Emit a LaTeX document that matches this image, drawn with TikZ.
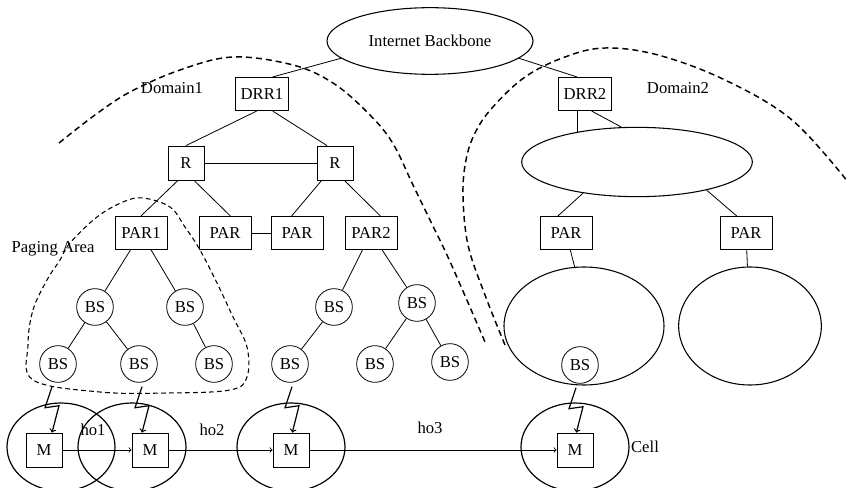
\documentclass[tikz,border=0pt]{standalone}
\usepackage{fontspec}
\setmainfont{Liberation Serif}
\usetikzlibrary{shapes,positioning}

\begin{document}
\begin{tikzpicture}[x=0.75pt,y=-0.75pt,line width=0.6pt,
  font=\fontsize{12.5}{15}\selectfont,
  box/.style={draw,minimum width=27pt,minimum height=25.5pt,inner sep=2pt},
  router/.style={box,minimum width=40pt,minimum height=25pt},
  pabox/.style={box,minimum width=39pt,minimum height=25pt},
  bs/.style={draw,circle,minimum size=27.5pt,inner sep=0pt},
  wan/.style={draw,ellipse,line width=0.8pt},
  cellring/.style={draw,ellipse,line width=0.9pt,minimum width=81pt,minimum height=66pt},
  domline/.style={dash pattern=on 4.5pt off 3pt,line width=1.1pt},
  paging/.style={dash pattern=on 3.5pt off 2.5pt,line width=0.8pt},
  zap/.style={->,line width=0.9pt}]
  \useasboundingbox (0,0) rectangle (850,488);
% domains
  \draw[domline] plot[smooth,tension=0.6] coordinates {(59,143) (95,115) (130,92)
    (180,70) (233,57) (293,65) (333,83) (367,112) (392,142) (413,185) (430,220)
    (447,255) (466,298) (485,342)};
  \draw[domline] plot[smooth,tension=0.6] coordinates {(505,345) (485,295) (468,245)
    (463,195) (466,160) (475,133) (492,108) (525,77) (565,57) (605,48) (658,55)
    (725,80) (792,120) (848,182)};
  \draw[paging] plot[smooth cycle,tension=0.6] coordinates {(28,345) (33,310) (47,280)
    (60,260) (70,243) (97,217) (123,202) (143,198) (170,207) (185,227) (200,250)
    (217,283) (233,317) (247,347) (247,377) (230,390) (167,393) (100,392) (33,380)};
  \node (dom1) at (172,88) {Domain1};
  \node (dom2) at (678,88) {Domain2};
  \node (pga) at (53,249) {Paging Area};

% core
  \node[wan,minimum width=154.5pt,minimum height=50pt] (ib) at (430,41) {Internet Backbone};
  \node[router] (drr1) at (262,94) {DRR1};
  \node[router] (drr2) at (585,94) {DRR2};
  \draw (ib.191) -- ([xshift=8pt]drr1.north);
  \draw (ib.349) -- ([xshift=-6pt]drr2.north);

% domain 1
  \node[box] (r1) at (186,163) {R};
  \node[box] (r2) at (335,163) {R};
  \node[pabox] (par1) at (141,233) {PAR1};
  \node[pabox] (para) at (225,233) {PAR};
  \node[pabox] (parb) at (297,233) {PAR};
  \node[pabox] (par2) at (371,233) {PAR2};
  \draw ([xshift=-4pt]drr1.south) -- (r1.north);
  \draw ([xshift=8pt]drr1.south) -- ([xshift=-6pt]r2.north);
  \draw (r1) -- (r2);
  \draw ([xshift=-6pt]r1.south) -- (par1.north);
  \draw ([xshift=6pt]r1.south) -- ([xshift=4pt]para.north);
  \draw ([xshift=-10pt]r2.south) -- ([xshift=-4pt]parb.north);
  \draw ([xshift=7pt]r2.south) -- ([xshift=7pt]par2.north);
  \draw (para) -- (parb);

  \node[bs] (b1) at (95,307) {BS};
  \node[bs] (b2) at (185,307) {BS};
  \node[bs] (b3) at (58,364) {BS};
  \node[bs] (b4) at (139,364) {BS};
  \node[bs] (b5) at (214,364) {BS};
  \node[bs] (b6) at (334,307) {BS};
  \node[bs] (b7) at (417,303) {BS};
  \node[bs] (b8) at (290,364) {BS};
  \node[bs] (b9) at (375,364) {BS};
  \node[bs] (b10) at (450,362) {BS};
  \draw (par1) -- (b1);
  \draw (par1) -- (b2);
  \draw (b1) -- (b3);
  \draw (b1) -- (b4);
  \draw (b2) -- (b5);
  \draw (par2) -- (b6);
  \draw (par2) -- (b7);
  \draw (b6) -- (b8);
  \draw (b7) -- (b9);
  \draw (b7) -- (b10);

% domain 2
  \node[wan,minimum width=173pt,minimum height=52pt] (core) at (637,162) {};
  \node[pabox] (parc) at (566,233) {PAR};
  \node[pabox] (pard) at (746,233) {PAR};
  \node[wan,minimum width=120pt,minimum height=88.5pt] (biga) at (584,326) {};
  \node[wan,minimum width=107pt,minimum height=88.5pt] (bigb) at (750,326) {};
  \node[bs] (b11) at (580,365) {BS};
  \draw (core.153) -- (core.153 |- drr2.south);
  \draw ([xshift=5pt]drr2.south) -- (core.114);
  \draw (core.210) -- ([xshift=-6pt]parc.north);
  \draw (core.338) -- ([xshift=-7pt]pard.north);
  \draw (parc) -- (biga.99);
  \draw (pard) -- (bigb);

% cells and handoffs
  \node[cellring] (c1) at (61,447) {};
  \node[cellring] (c2) at (132,447) {};
  \node[cellring] (c3) at (291,447) {};
  \node[cellring] (c4) at (575,447) {};
  \node[box] (m1) at (44,450) {M};
  \node[box] (m2) at (150,450) {M};
  \node[box] (m3) at (291,450) {M};
  \node[box] (m4) at (575,450) {M};
  \draw[->] (m1) -- (m2);
  \draw[->] (m2) -- (m3);
  \draw[->] (m3) -- (m4);
  \node (ho1) at (93,430) {ho1};
  \node (ho2) at (212,430) {ho2};
  \node (ho3) at (430,428) {ho3};
  \node (cl) at (645,447) {Cell};

  \draw[zap] ([shift={(-6,4)}]b3.south) -- ++(-7,21) -- ++(14,-2) -- ([xshift=6pt]m1.north);
  \draw[zap] ([shift={(3,4)}]b4.south) -- ++(-7,21) -- ++(14,-2) -- ([xshift=-6pt]m2.north);
  \draw[zap] ([shift={(2,4)}]b8.south) -- ++(-7,21) -- ++(14,-2) -- ([xshift=1pt]m3.north);
  \draw[zap] ([shift={(-4,4)}]b11.south) -- ++(-7,21) -- ++(14,-2) -- ([xshift=1pt]m4.north);
\end{tikzpicture}
\end{document}
